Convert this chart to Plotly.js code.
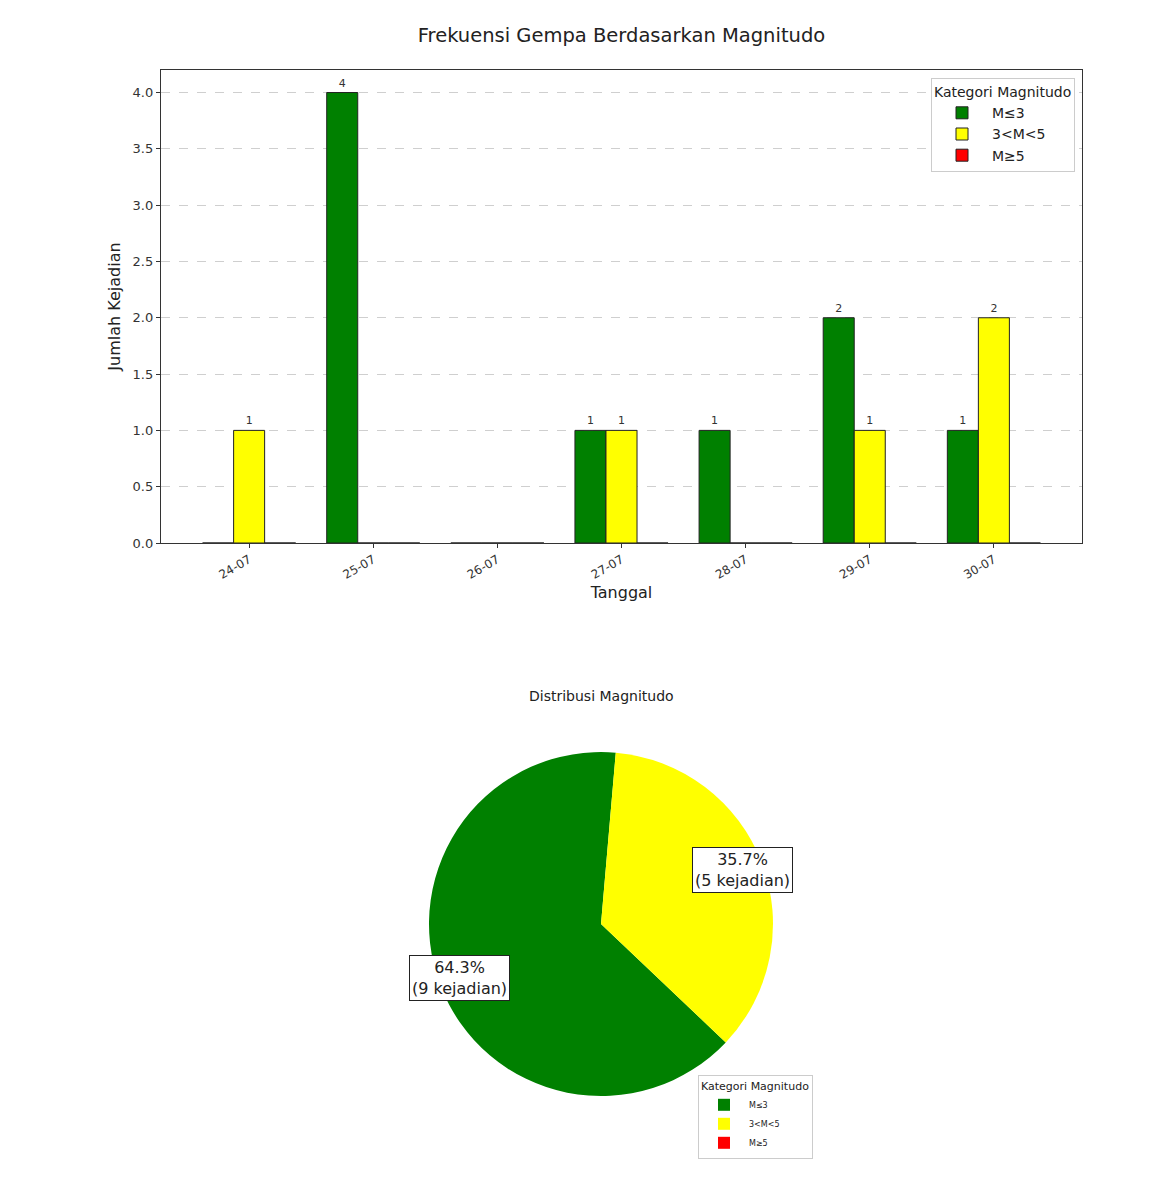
<!DOCTYPE html>
<html>
<head>
<meta charset="utf-8">
<script src="https://cdn.plot.ly/plotly-3.0.1.min.js"></script>
<style>html,body{margin:0;padding:0;background:#fff;} #chart{width:1170px;height:1193px;}</style>
</head>
<body>
<div id="chart"></div>
<script>
// ---- data ----
const dates = ['24-07', '25-07', '26-07', '27-07', '28-07', '29-07', '30-07'];
const categories = ['M\u22643', '3<M<5', 'M\u22655'];
const countLow = [0, 4, 0, 1, 1, 2, 1];
const countMid = [1, 0, 0, 1, 0, 1, 2];
const countHigh = [0, 0, 0, 0, 0, 0, 0];
const pieValues = [9, 5, 0];
const colors = ['green', 'yellow', 'red'];

const W = 1170, H = 1193;
const FONT = 'DejaVu Sans, sans-serif';

const series = [countLow, countMid, countHigh];
const traces = series.map((vals, k) => ({
  type: 'bar',
  name: categories[k],
  x: dates,
  y: vals,
  text: vals.map(v => v > 0 ? String(v) : ''),
  textposition: 'outside',
  cliponaxis: false,
  textfont: {family: FONT, size: 11, color: '#333'},
  marker: {color: colors[k], line: {color: '#222', width: 1}},
  legend: 'legend',
  hoverinfo: 'x+y+name'
}));

// pie
const pieDomX = [429 / W, 773 / W];
const pieDomY = [1 - 1096 / H, 1 - 752 / H];
const pieRotation = 133.5; // degrees clockwise from 12 o'clock where first slice starts
traces.push({
  type: 'pie',
  labels: categories,
  values: pieValues,
  sort: false,
  direction: 'clockwise',
  rotation: pieRotation,
  marker: {colors: colors, line: {width: 0}},
  textinfo: 'none',
  domain: {x: pieDomX, y: pieDomY},
  legend: 'legend2',
  showlegend: true
});

// pie labels computed from values
const total = pieValues.reduce((a, b) => a + b, 0);
const cxPx = (pieDomX[0] + pieDomX[1]) / 2 * W;
const cyPx = (1 - (pieDomY[0] + pieDomY[1]) / 2) * H;
const rPx = Math.min((pieDomX[1] - pieDomX[0]) * W, (pieDomY[1] - pieDomY[0]) * H) / 2;
const annotations = [];
let cur = pieRotation;
pieValues.forEach((v, i) => {
  const span = v / total * 360;
  const mid = cur + span / 2;
  cur += span;
  if (v <= 0) return;
  const a = mid * Math.PI / 180;
  const d = 0.88 * rPx;
  const px = cxPx + d * Math.sin(a);
  const py = cyPx - d * Math.cos(a);
  annotations.push({
    x: px / W, y: 1 - py / H, xref: 'paper', yref: 'paper',
    text: (v / total * 100).toFixed(1) + '%<br>(' + v + ' kejadian)',
    showarrow: false,
    font: {family: FONT, size: 16, color: '#222'},
    bgcolor: 'white', bordercolor: '#222', borderwidth: 1, borderpad: 2,
    xanchor: 'center', yanchor: 'middle'
  });
});
annotations.push({
  x: cxPx / W, y: 1 - 696 / H, xref: 'paper', yref: 'paper',
  text: 'Distribusi Magnitudo', showarrow: false,
  font: {family: FONT, size: 14, color: '#222'},
  xanchor: 'center', yanchor: 'middle'
});

const layout = {
  width: W, height: H,
  margin: {l: 0, r: 0, t: 0, b: 0},
  paper_bgcolor: 'white', plot_bgcolor: 'white',
  font: {family: FONT, color: '#222'},
  title: {
    text: 'Frekuensi Gempa Berdasarkan Magnitudo',
    font: {family: FONT, size: 19.5, color: '#222'},
    x: 621.5 / W, xanchor: 'center', y: 1 - 35 / H, yanchor: 'middle'
  },
  barmode: 'group',
  bargap: 0.25,
  bargroupgap: 0,
  xaxis: {
    domain: [161 / W, 1082 / W],
    anchor: 'y',
    type: 'category',
    range: [-0.71, 6.71],
    tickangle: -30,
    ticks: 'outside', ticklen: 4, tickcolor: '#333',
    tickfont: {family: FONT, size: 12, color: '#333'},
    showline: true, linecolor: '#333', linewidth: 1.2, mirror: true,
    showgrid: false, zeroline: false, automargin: false,
    title: {text: 'Tanggal', font: {family: FONT, size: 16, color: '#222'}, standoff: 6}
  },
  yaxis: {
    domain: [1 - 543 / H, 1 - 70 / H],
    anchor: 'x',
    range: [0, 4.2],
    dtick: 0.5, tickformat: '.1f',
    ticks: 'outside', ticklen: 4, tickcolor: '#333',
    tickfont: {family: FONT, size: 13, color: '#333'},
    showline: true, linecolor: '#333', linewidth: 1.2, mirror: true,
    showgrid: true, gridcolor: '#cfcfcf', griddash: 'dash', gridwidth: 1,
    zeroline: false, automargin: false,
    title: {text: 'Jumlah Kejadian', font: {family: FONT, size: 16, color: '#222'}, standoff: 8}
  },
  legend: {
    x: 1075 / W, xanchor: 'right', y: 1 - 78 / H, yanchor: 'top',
    bgcolor: 'white', bordercolor: '#ccc', borderwidth: 1,
    itemwidth: 50,
    title: {text: 'Kategori Magnitudo', font: {family: FONT, size: 14, color: '#222'}},
    font: {family: FONT, size: 14, color: '#222'}
  },
  legend2: {
    x: 813 / W, xanchor: 'right', y: 1 - 1075 / H, yanchor: 'top',
    bgcolor: 'white', bordercolor: '#ccc', borderwidth: 1,
    itemwidth: 40,
    title: {text: 'Kategori Magnitudo', font: {family: FONT, size: 11, color: '#222'}},
    font: {family: FONT, size: 8, color: '#222'},
    tracegroupgap: 0
  },
  annotations: annotations,
  showlegend: true
};

Plotly.newPlot('chart', traces, layout, {displayModeBar: false, staticPlot: true});
</script>
</body>
</html>
